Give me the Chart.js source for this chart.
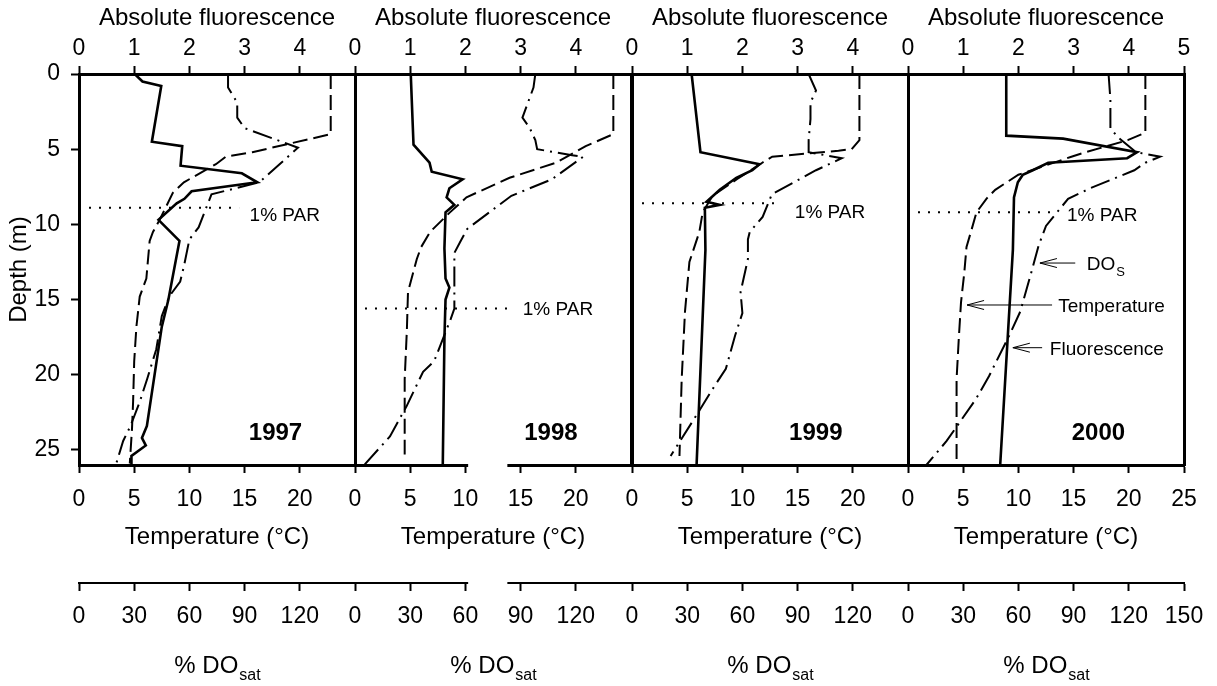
<!DOCTYPE html>
<html>
<head>
<meta charset="utf-8">
<script src="https://cdn.jsdelivr.net/npm/chart.js@4.4.1/dist/chart.umd.min.js"></script>
<style>
  html, body { margin: 0; padding: 0; background: #fff; }
  #wrap { position: relative; width: 1217px; height: 686px; }
  #wrap canvas { position: absolute; left: 0; top: 0; }
</style>
</head>
<body>
<div id="wrap">
  <canvas id="c0" width="1217" height="686"></canvas>
  <canvas id="c1" width="1217" height="686"></canvas>
  <canvas id="c2" width="1217" height="686"></canvas>
  <canvas id="c3" width="1217" height="686"></canvas>
</div>
<script>
const years = ['1997', '1998', '1999', '2000'];

// Absolute fluorescence profiles (depth in m)
const fluorDepth1997 = [0, 0.5, 0.8, 4.5, 4.8, 6.1, 6.6, 7.2, 7.8, 8.3, 8.6, 9.7, 11.1, 15.0, 16.8, 23.4, 24.2, 24.7, 25.4, 26];
const fluor1997 = [1.01, 1.15, 1.49, 1.32, 1.87, 1.84, 2.95, 3.23, 2.04, 1.91, 1.77, 1.44, 1.82, 1.62, 1.50, 1.23, 1.14, 1.21, 0.95, 0.95];
const fluorDepth1998 = [0, 4.7, 5.9, 6.5, 7.0, 7.6, 8.2, 8.7, 9.2, 11.6, 13.6, 14.2, 15.0, 17.6, 26];
const fluor1998 = [1.01, 1.06, 1.35, 1.39, 1.95, 1.71, 1.66, 1.80, 1.64, 1.62, 1.64, 1.71, 1.64, 1.62, 1.59];
const fluorDepth1999 = [0, 5.2, 6.0, 6.4, 6.9, 7.7, 8.5, 8.7, 8.9, 11.7, 26];
const fluor1999 = [1.08, 1.24, 2.31, 2.18, 1.89, 1.59, 1.35, 1.59, 1.32, 1.33, 1.17];
const fluorDepth2000 = [0, 4.1, 4.3, 5.2, 5.6, 5.9, 6.4, 6.7, 7.2, 8.2, 11.7, 26];
const fluor2000 = [1.78, 1.78, 2.81, 4.15, 3.97, 2.54, 2.26, 2.08, 1.99, 1.92, 1.90, 1.67];

// Temperature profiles (deg C)
const tempDepth1997 = [0, 4.0, 5.2, 5.5, 6.0, 7.2, 7.9, 9.7, 10.5, 11.1, 13.6, 14.8, 16.8, 19.1, 21.8, 23.6, 25.9];
const temp1997 = [22.8, 22.8, 15.7, 13.3, 12.4, 9.5, 8.5, 7.3, 6.7, 6.4, 6.1, 5.5, 5.2, 5.0, 4.9, 4.8, 4.6];
const tempDepth1998 = [0, 4.0, 4.8, 5.9, 6.9, 8.2, 9.2, 10.5, 11.5, 12.3, 14.5, 17.0, 20.3, 25.3];
const temp1998 = [23.4, 23.4, 20.9, 18.2, 14.0, 10.1, 8.6, 6.8, 6.0, 5.6, 4.8, 4.7, 4.5, 4.5];
const tempDepth1999 = [0, 4.4, 5.0, 5.1, 5.5, 5.9, 7.0, 8.1, 9.2, 10.5, 12.5, 15.8, 20.3, 25.4];
const temp1999 = [20.6, 20.6, 19.9, 18.7, 12.7, 11.8, 9.5, 7.3, 6.4, 6.1, 5.2, 4.8, 4.5, 4.3];
const tempDepth2000 = [0, 3.9, 4.4, 5.2, 5.5, 6.7, 7.7, 8.3, 9.2, 10.5, 11.5, 13.2, 15.2, 17.6, 20.3, 26];
const temp2000 = [21.5, 21.5, 19.9, 16.1, 14.8, 10.0, 7.9, 7.1, 6.2, 5.7, 5.3, 5.1, 4.8, 4.6, 4.4, 4.4];

// % DO saturation profiles
const doDepth1997 = [0, 0.9, 1.9, 2.9, 3.6, 4.9, 6.0, 7.2, 8.0, 10.2, 11.0, 12.8, 13.8, 14.8, 16.1, 18.3, 20.3, 21.8, 23.4, 24.4, 26];
const do1997 = [81, 81, 86, 86, 90, 119, 109, 98, 72, 65, 60, 57, 55, 49, 45, 42, 37, 33, 28, 24, 20];
const doDepth1998 = [0, 0.9, 2.9, 3.6, 4.4, 5.0, 5.4, 5.5, 7.0, 7.8, 8.1, 10.3, 11.2, 11.9, 14.1, 15.6, 16.3, 19.1, 19.8, 22.1, 24.1, 26];
const do1998 = [98, 97, 91, 95, 98, 99, 118, 124, 107, 91, 85, 61, 57, 54, 54, 54, 52, 43, 37, 28, 19, 5];
const doDepth1999 = [0, 1.1, 1.9, 3.0, 4.4, 5.2, 5.6, 6.4, 8.0, 9.5, 10.5, 11.0, 12.3, 14.5, 15.9, 17.4, 19.6, 21.1, 22.5, 25.4];
const do1999 = [96, 100, 97, 97, 96, 96, 114, 100, 76, 71, 64, 63, 63, 59, 60, 56, 51, 43, 36, 21];
const doDepth2000 = [0, 1.7, 3.6, 4.2, 5.2, 5.5, 5.9, 6.4, 7.6, 8.3, 10.1, 11.4, 13.2, 15.8, 17.4, 20.1, 21.6, 24.4, 26];
const do2000 = [109, 110, 110, 114, 124, 137, 129, 123, 99, 87, 75, 71, 67, 61, 55, 44, 37, 21, 10];

// 1% PAR depth and how far the dotted line runs (fluorescence units)
const parDepth = [8.9, 15.6, 8.6, 9.2];
const parReach = [2.9, 2.85, 2.6, 2.67];

const depthTicks = [0, 5, 10, 15, 20, 25];

const fluorDepths = [fluorDepth1997, fluorDepth1998, fluorDepth1999, fluorDepth2000];
const fluorVals = [fluor1997, fluor1998, fluor1999, fluor2000];
const tempDepths = [tempDepth1997, tempDepth1998, tempDepth1999, tempDepth2000];
const tempVals = [temp1997, temp1998, temp1999, temp2000];
const doDepths = [doDepth1997, doDepth1998, doDepth1999, doDepth2000];
const doVals = [do1997, do1998, do1999, do2000];

const FONT = '"Liberation Sans", Arial, Helvetica, sans-serif';
Chart.defaults.font.family = FONT;
Chart.defaults.color = '#000';

const panelLeft = [79, 355, 632, 908];
const panelW = 276;

function profile(depths, vals, axis, dash, width) {
  return {
    data: depths.map((d, k) => ({ x: vals[k], y: d })),
    xAxisID: axis,
    yAxisID: 'y',
    showLine: true,
    borderColor: '#000',
    borderWidth: width,
    borderDash: dash,
    pointRadius: 0,
    tension: 0
  };
}

// label positions, in fluorescence units / depth
const parLabelX = [3.09, 3.04, 2.95, 2.88];
const parLabelDepth = [9.45, 15.7, 9.2, 9.45];
const yearX = [3.56, 3.55, 3.33, 3.45];
const arrows = [
  { text: 'DO', sub: 'S', depth: 12.57, tail: 3.03, tip: 2.39, textX: 3.24 },
  { text: 'Temperature', sub: '', depth: 15.36, tail: 2.61, tip: 1.07, textX: 2.72 },
  { text: 'Fluorescence', sub: '', depth: 18.2, tail: 2.43, tip: 1.90, textX: 2.57 }
];

function annotations(i) {
  return {
    id: 'annot' + i,
    afterDraw(chart) {
      const ctx = chart.ctx;
      const xf = chart.scales.xf, y = chart.scales.y, xd = chart.scales.xd, xt = chart.scales.xt;
      ctx.save();
      ctx.fillStyle = '#000';
      ctx.textAlign = 'left';
      ctx.textBaseline = 'middle';

      // broken axis between 1998 and 1999 axes
      if (i === 1) {
        const g0 = xt.getPixelForValue(10.25), g1 = xt.getPixelForValue(13.8);
        ctx.fillStyle = '#fff';
        ctx.fillRect(g0, xt.top - 3, g1 - g0, 7);
        ctx.fillRect(g0, xd.top - 3, g1 - g0, 7);
        ctx.fillStyle = '#000';
      }

      ctx.font = '19px ' + FONT;
      ctx.fillText('1% PAR', xf.getPixelForValue(parLabelX[i]), y.getPixelForValue(parLabelDepth[i]));

      ctx.font = 'bold 24px ' + FONT;
      ctx.textAlign = 'center';
      ctx.fillText(years[i], xf.getPixelForValue(yearX[i]), y.getPixelForValue(23.9));

      // % DO_sat title
      ctx.textAlign = 'left';
      const cx = (xd.left + xd.right) / 2;
      ctx.font = '24px ' + FONT;
      const w1 = ctx.measureText('% DO').width;
      ctx.font = '16px ' + FONT;
      const w2 = ctx.measureText('sat').width;
      const x0 = cx - (w1 + w2) / 2;
      ctx.font = '24px ' + FONT;
      ctx.fillText('% DO', x0, xd.bottom - 20);
      ctx.font = '16px ' + FONT;
      ctx.fillText('sat', x0 + w1 + 1, xd.bottom - 10);

      if (i === 3) {
        ctx.strokeStyle = '#000';
        ctx.lineWidth = 1;
        arrows.forEach(a => {
          const py = y.getPixelForValue(a.depth);
          const tip = xf.getPixelForValue(a.tip), tail = xf.getPixelForValue(a.tail);
          ctx.beginPath();
          ctx.moveTo(tail, py);
          ctx.lineTo(tip, py);
          ctx.moveTo(tip + 17, py - 4.5);
          ctx.lineTo(tip, py);
          ctx.lineTo(tip + 17, py + 4.5);
          ctx.stroke();
          const tx = xf.getPixelForValue(a.textX);
          ctx.font = '19px ' + FONT;
          ctx.fillText(a.text, tx, py + 2);
          if (a.sub) {
            const w = ctx.measureText(a.text).width;
            ctx.font = '13px ' + FONT;
            ctx.fillText(a.sub, tx + w + 1, py + 9);
          }
        });
      }
      ctx.restore();
    }
  };
}

function makePanel(i) {
  const first = i === 0, last = i === 3;
  const yAxisW = first ? 79 : 0;
  const left = panelLeft[i];
  const right = left + panelW;
  const tickFont = { size: 23, family: FONT };
  const titleFont = { size: 24, family: FONT };

  return new Chart(document.getElementById('c' + i), {
    type: 'scatter',
    data: {
      datasets: [
        profile(fluorDepths[i], fluorVals[i], 'xf', [], 2.6),
        profile(tempDepths[i], tempVals[i], 'xt', [15, 6], 2),
        profile(doDepths[i], doVals[i], 'xd', [20, 6, 2, 6], 2),
        {
          data: [{ x: 0, y: parDepth[i] }, { x: parReach[i], y: parDepth[i] }],
          xAxisID: 'xf', yAxisID: 'y', showLine: true,
          borderColor: '#000', borderWidth: 2, borderDash: [2, 8], pointRadius: 0
        }
      ]
    },
    options: {
      responsive: false,
      animation: false,
      events: [],
      layout: { padding: { left: left - yAxisW, right: 1217 - right, top: 0, bottom: 0 } },
      plugins: { legend: { display: false }, tooltip: { enabled: false } },
      scales: {
        y: {
          type: 'linear', position: 'left', reverse: true, min: 0, max: 26,
          afterFit: s => { s.width = yAxisW; },
          afterBuildTicks: s => { s.ticks = depthTicks.map(v => ({ value: v })); },
          ticks: { display: first, padding: 11, color: '#000', font: tickFont },
          grid: { drawOnChartArea: false, drawTicks: first, tickLength: 8, tickWidth: 2, tickColor: '#000' },
          border: { display: true, width: 3, color: '#000' },
          title: { display: first, text: 'Depth (m)', color: '#000', font: titleFont, padding: { top: 5, bottom: 0 } }
        },
        yr: {
          type: 'linear', position: 'right', reverse: true, min: 0, max: 26,
          afterFit: s => { s.width = 0; },
          ticks: { display: false },
          grid: { drawOnChartArea: false, drawTicks: false },
          border: { display: true, width: 3, color: '#000' }
        },
        xf: {
          type: 'linear', position: 'top', min: 0, max: 5,
          afterFit: s => { s.height = 74; },
          afterBuildTicks: s => { s.ticks = s.ticks.filter(t => last || t.value < 5); },
          ticks: { stepSize: 1, padding: 4, autoSkip: false, maxRotation: 0, color: '#000', font: tickFont },
          grid: { drawOnChartArea: false, tickLength: 8, tickWidth: 2, tickColor: '#000' },
          border: { width: 3, color: '#000' },
          title: { display: true, text: 'Absolute fluorescence', color: '#000', font: titleFont, padding: { top: 4, bottom: 0 } }
        },
        xt: {
          type: 'linear', position: 'bottom', min: 0, max: 25, weight: 0,
          afterFit: s => { s.height = 118; },
          afterBuildTicks: s => { s.ticks = s.ticks.filter(t => last || t.value < 25); },
          ticks: { stepSize: 5, padding: 13, autoSkip: false, maxRotation: 0, color: '#000', font: tickFont },
          grid: { drawOnChartArea: false, tickLength: 8, tickWidth: 2, tickColor: '#000' },
          border: { width: 3, color: '#000' },
          title: { display: true, text: 'Temperature (\u00B0C)', color: '#000', font: titleFont, padding: { top: 0, bottom: 31 } }
        },
        xd: {
          type: 'linear', position: 'bottom', min: 0, max: 150, weight: 1,
          afterFit: s => { s.height = 103; },
          afterBuildTicks: s => { s.ticks = s.ticks.filter(t => last || t.value < 150); },
          ticks: { stepSize: 30, padding: 12, autoSkip: false, maxRotation: 0, color: '#000', font: tickFont },
          grid: { drawOnChartArea: false, tickLength: 8, tickWidth: 2, tickColor: '#000' },
          border: { width: 2, color: '#000' },
          title: { display: false }
        }
      }
    },
    plugins: [annotations(i)]
  });
}

for (let i = 0; i < 4; i++) makePanel(i);
</script>
</body>
</html>
